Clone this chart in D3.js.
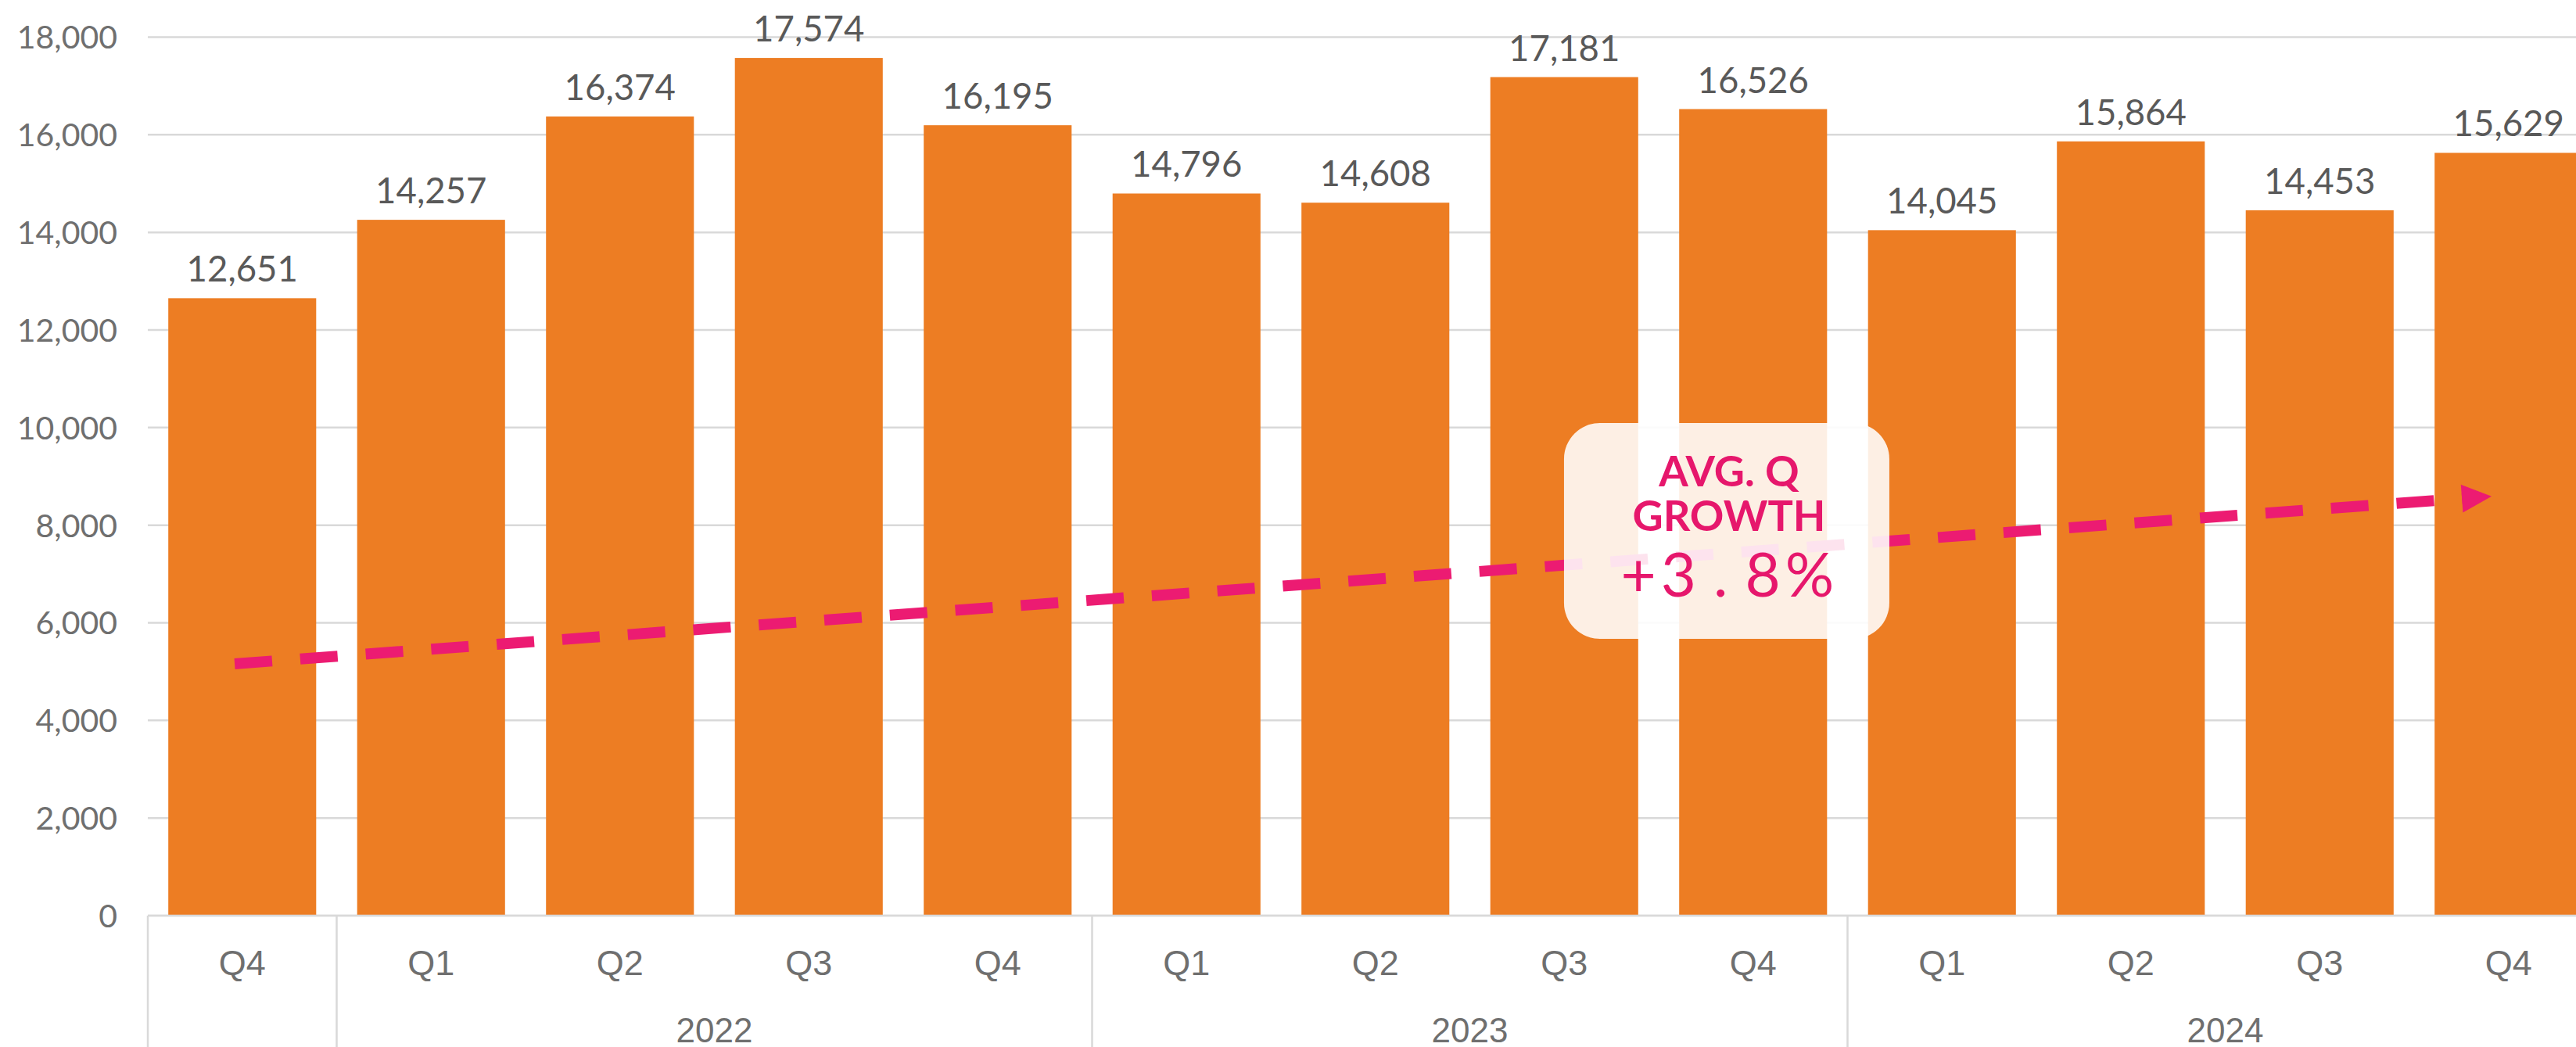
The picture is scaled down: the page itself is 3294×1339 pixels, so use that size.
<!DOCTYPE html>
<html>
<head>
<meta charset="utf-8">
<script src="https://cdn.jsdelivr.net/npm/d3@7"></script>
<style>
  body { margin: 0; background: #fff; overflow: hidden; }
  svg { display: block; }
</style>
</head>
<body>
<div id="chart"></div>
<script>
const width = 3294
const height = 1339

// quarter labels, one per bar, and the year groups they fall into
const quarters = ["Q4", "Q1", "Q2", "Q3", "Q4", "Q1", "Q2", "Q3", "Q4", "Q1", "Q2", "Q3", "Q4"]
const values = [12651, 14257, 16374, 17574, 16195, 14796, 14608, 17181, 16526, 14045, 15864, 14453, 15629]
const yearLabels = ["", "2022", "2023", "2024"]
const yearCounts = [1, 4, 4, 4]
const yTicks = [0, 2000, 4000, 6000, 8000, 10000, 12000, 14000, 16000, 18000]

// trend arrow, in [category position, value]
const trendPoints = [[0.46, 5160], [12.41, 8590]]
const growthLines = ["AVG. Q", "GROWTH"]
const growthValue = ["+3", ".", "8%"]

const orange = "#ED7D23"
const pink = "#EC1B72"
const grid = "#d9d9d9"

const left = 189
const step = 241.5
const baseY = 1171
const topY = 47.5

const keys = quarters.map((q, i) => i)

const x = d3.scaleBand()
  .domain(keys)
  .range([left, left + step * quarters.length])
  .paddingInner(0.217)
  .paddingOuter(0.1085)

// continuous position along the category axis (1 unit = one category)
const xPos = d3.scaleLinear()
  .domain([0, quarters.length])
  .range([left, left + step * quarters.length])

const y = d3.scaleLinear()
  .domain([0, 18000])
  .range([baseY, topY])

const svg = d3.select("#chart").append("svg")
  .attr("width", width)
  .attr("height", height)

// horizontal gridlines
svg.append("g")
  .selectAll("line")
  .data(yTicks)
  .enter().append("line")
  .attr("x1", left)
  .attr("x2", width)
  .attr("y1", d => y(d))
  .attr("y2", d => y(d))
  .attr("stroke", grid)
  .attr("stroke-width", 2.5)

// y axis labels
const yAxis = svg.append("g")
  .attr("transform", "translate(150,0)")
  .call(d3.axisLeft(y).tickValues(yTicks).tickFormat(d3.format(",")).tickSize(0).tickPadding(0))
yAxis.select(".domain").remove()
yAxis.selectAll("text")
  .attr("font-family", "Lato, sans-serif")
  .attr("font-size", 41)
  .attr("fill", "#6f6f6f")
  .attr("dy", "0.35em")

// bars
svg.append("g")
  .selectAll("rect")
  .data(values)
  .enter().append("rect")
  .attr("x", (d, i) => x(i))
  .attr("width", x.bandwidth())
  .attr("y", d => y(d))
  .attr("height", d => baseY - y(d))
  .attr("fill", orange)

// value labels
svg.append("g")
  .selectAll("text")
  .data(values)
  .enter().append("text")
  .attr("x", (d, i) => x(i) + x.bandwidth() / 2)
  .attr("y", d => y(d) - 21)
  .attr("text-anchor", "middle")
  .attr("font-family", "Lato, sans-serif")
  .attr("font-size", 45.5)
  .attr("fill", "#595959")
  .text(d => d3.format(",")(d))

// baseline
svg.append("line")
  .attr("x1", left).attr("x2", width)
  .attr("y1", y(0)).attr("y2", y(0))
  .attr("stroke", grid)
  .attr("stroke-width", 2.5)

// quarter labels
svg.append("g")
  .selectAll("text")
  .data(quarters)
  .enter().append("text")
  .attr("x", (d, i) => x(i) + x.bandwidth() / 2)
  .attr("y", 1247)
  .attr("text-anchor", "middle")
  .attr("font-family", "Liberation Sans, Arial, sans-serif")
  .attr("font-size", 45)
  .attr("fill", "#6f6f6f")
  .text(d => d)

// year groups: separators and labels
let groupStart = 0
const groups = yearLabels.map(function(label, i) {
  let g = {label: label, start: groupStart, end: groupStart + yearCounts[i]}
  groupStart += yearCounts[i]
  return g
})

svg.append("g")
  .selectAll("line")
  .data(groups)
  .enter().append("line")
  .attr("x1", d => xPos(d.start))
  .attr("x2", d => xPos(d.start))
  .attr("y1", y(0))
  .attr("y2", height)
  .attr("stroke", grid)
  .attr("stroke-width", 2.5)

svg.append("g")
  .selectAll("text")
  .data(groups)
  .enter().append("text")
  .attr("x", d => xPos((d.start + d.end) / 2))
  .attr("y", 1333)
  .attr("text-anchor", "middle")
  .attr("font-family", "Liberation Sans, Arial, sans-serif")
  .attr("font-size", 44)
  .attr("fill", "#6f6f6f")
  .text(d => d.label)

// dashed trend arrow
const p0 = [xPos(trendPoints[0][0]), y(trendPoints[0][1])]
const p1 = [xPos(trendPoints[1][0]), y(trendPoints[1][1])]
const ang = Math.atan2(p1[1] - p0[1], p1[0] - p0[0])
const headLen = 38
const headHalf = 18
const base = [p1[0] - headLen * Math.cos(ang), p1[1] - headLen * Math.sin(ang)]

svg.append("line")
  .attr("x1", p0[0]).attr("y1", p0[1])
  .attr("x2", base[0] + 4 * Math.cos(ang)).attr("y2", base[1] + 4 * Math.sin(ang))
  .attr("stroke", pink)
  .attr("stroke-width", 14)
  .attr("stroke-dasharray", "48,36")

svg.append("path")
  .attr("d", d3.line()([
    p1,
    [base[0] - headHalf * Math.sin(ang), base[1] + headHalf * Math.cos(ang)],
    [base[0] + headHalf * Math.sin(ang), base[1] - headHalf * Math.cos(ang)]
  ]) + "Z")
  .attr("fill", pink)

// growth callout
const boxCenter = xPos(8.36)
const boxW = 416
const boxTop = y(10095)
const boxBottom = y(5670)

svg.append("rect")
  .attr("x", boxCenter - boxW / 2)
  .attr("y", boxTop)
  .attr("width", boxW)
  .attr("height", boxBottom - boxTop)
  .attr("rx", 46)
  .attr("fill", "#fff")
  .attr("fill-opacity", 0.88)

svg.append("g")
  .selectAll("text")
  .data(growthLines)
  .enter().append("text")
  .attr("x", boxCenter + 3)
  .attr("y", (d, i) => boxTop + 81 + i * 57)
  .attr("text-anchor", "middle")
  .attr("font-family", "Lato, sans-serif")
  .attr("font-weight", 700)
  .attr("font-size", 54)
  .attr("fill", "#E6176C")
  .text(d => d)

const valText = svg.append("text")
  .attr("x", boxCenter + 4)
  .attr("y", boxTop + 222)
  .attr("text-anchor", "middle")
  .attr("font-family", "Lato, sans-serif")
  .attr("font-size", 78)
  .attr("letter-spacing", 6)
  .attr("fill", "#E6176C")

valText.selectAll("tspan")
  .data(growthValue)
  .enter().append("tspan")
  .attr("dx", (d, i) => i === 0 ? 0 : 16)
  .text(d => d)
</script>
</body>
</html>
